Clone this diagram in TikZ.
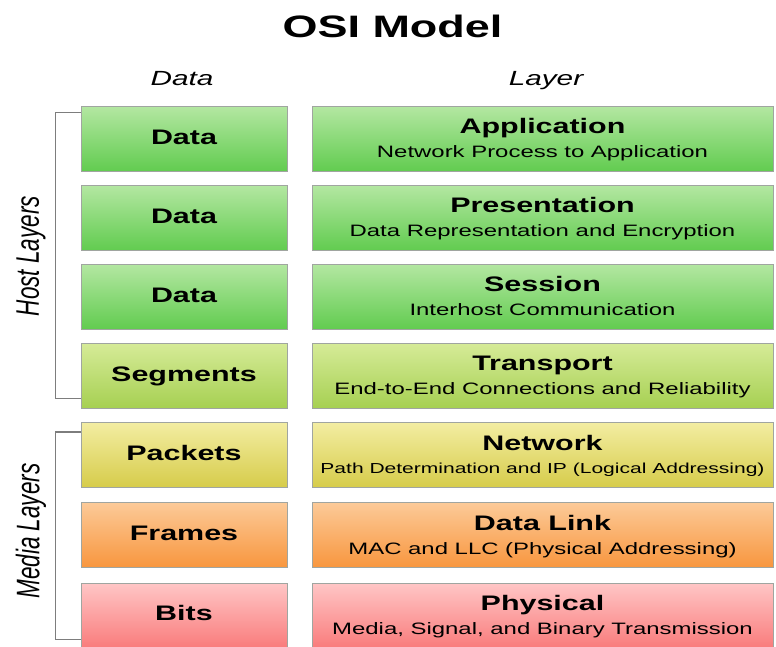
\documentclass[tikz,border=0pt]{standalone}
\usepackage{fontspec}
\setmainfont{Liberation Sans}[FakeStretch=1.45]
\newfontfamily\plainsans{Liberation Sans}
\usepackage{graphicx}
\definecolor{gT}{RGB}{180,231,162}
\definecolor{gB}{RGB}{98,204,80}
\definecolor{sT}{RGB}{214,235,152}
\definecolor{sB}{RGB}{166,208,82}
\definecolor{yT}{RGB}{243,237,162}
\definecolor{yB}{RGB}{214,204,74}
\definecolor{oT}{RGB}{252,202,152}
\definecolor{oB}{RGB}{248,150,62}
\definecolor{rT}{RGB}{255,198,198}
\definecolor{rB}{RGB}{248,112,112}
\definecolor{edge}{RGB}{160,165,160}
\definecolor{brk}{RGB}{125,125,125}
\tikzset{
  box/.style={draw=edge, line width=1pt, minimum height=65pt, inner sep=0pt},
  lbox/.style={box, minimum width=206pt},
  rbox/.style={box, minimum width=461pt},
  grn/.style={top color=gT, bottom color=gB},
  sgr/.style={top color=sT, bottom color=sB},
  yel/.style={top color=yT, bottom color=yB},
  org/.style={top color=oT, bottom color=oB},
  red/.style={top color=rT, bottom color=rB},
  lastrow/.style={minimum height=75pt},
  ltext/.style={anchor=base, inner sep=0pt, font=\fontsize{21}{24}\selectfont\bfseries},
  ttext/.style={anchor=base, inner sep=0pt, font=\fontsize{21}{24}\selectfont\bfseries},
  stext/.style={anchor=base, inner sep=0pt, font=\fontsize{16.5}{19}\selectfont},
  head/.style={anchor=base, inner sep=0pt, font=\fontsize{20.5}{24}\selectfont\itshape},
  bracket/.style={draw=brk, line width=1.3pt},
  side/.style={rotate=90, inner sep=0pt}
}
\begin{document}
\begin{tikzpicture}[x=1pt,y=-1pt]
\clip (0,0) rectangle (776,646);
\useasboundingbox (0,0) rectangle (776,646);
\fill[white] (0,0) rectangle (776,646);

\node[anchor=base, inner sep=0pt, font=\fontsize{31}{34}\selectfont\bfseries] (title) at (392.5,37) {OSI Model};
\node[head] (hdata) at (182,85) {Data};
\node[head] (hlayer) at (546,85) {Layer};

% left boxes
\node[lbox, grn] (d1) at (184,138.5) {};
\node[lbox, grn] (d2) at (184,217.5) {};
\node[lbox, grn] (d3) at (184,296.5) {};
\node[lbox, sgr] (d4) at (184,375.5) {};
\node[lbox, yel] (d5) at (184,455) {};
\node[lbox, org] (d6) at (184,535) {};
\node[lbox, red, lastrow] (d7) at (184,620.5) {};

\node[ltext] (d1t) at ([yshift=-5.5pt]d1.center) {Data};
\node[ltext] (d2t) at ([yshift=-5.5pt]d2.center) {Data};
\node[ltext] (d3t) at ([yshift=-5.5pt]d3.center) {Data};
\node[ltext] (d4t) at ([yshift=-5.5pt]d4.center) {Segments};
\node[ltext] (d5t) at ([yshift=-5.5pt]d5.center) {Packets};
\node[ltext] (d6t) at ([yshift=-5.5pt]d6.center) {Frames};
\node[ltext] (d7t) at ([yshift=-38pt]d7.north) {Bits};

% right boxes
\node[rbox, grn] (l1) at (542.5,138.5) {};
\node[rbox, grn] (l2) at (542.5,217.5) {};
\node[rbox, grn] (l3) at (542.5,296.5) {};
\node[rbox, sgr] (l4) at (542.5,375.5) {};
\node[rbox, yel] (l5) at (542.5,455) {};
\node[rbox, org] (l6) at (542.5,535) {};
\node[rbox, red, lastrow] (l7) at (542.5,620.5) {};

\node[ttext] (l1a) at ([yshift=-28pt]l1.north) {Application};
\node[stext] (l1b) at ([yshift=-52pt]l1.north) {Network Process to Application};
\node[ttext] (l2a) at ([yshift=-28pt]l2.north) {Presentation};
\node[stext] (l2b) at ([yshift=-52pt]l2.north) {Data Representation and Encryption};
\node[ttext] (l3a) at ([yshift=-28pt]l3.north) {Session};
\node[stext] (l3b) at ([yshift=-52pt]l3.north) {Interhost Communication};
\node[ttext] (l4a) at ([yshift=-28pt]l4.north) {Transport};
\node[stext] (l4b) at ([yshift=-52pt]l4.north) {End-to-End Connections and Reliability};
\node[ttext] (l5a) at ([yshift=-28pt]l5.north) {Network};
\node[stext, font=\fontsize{14.5}{17}\selectfont] (l5b) at ([yshift=-51pt]l5.north) {Path Determination and IP (Logical Addressing)};
\node[ttext] (l6a) at ([yshift=-28pt]l6.north) {Data Link};
\node[stext] (l6b) at ([yshift=-52pt]l6.north) {MAC and LLC (Physical Addressing)};
\node[ttext] (l7a) at ([yshift=-28pt]l7.north) {Physical};
\node[stext] (l7b) at ([yshift=-52pt]l7.north) {Media, Signal, and Binary Transmission};

% brackets
\draw[bracket] ([yshift=-7pt]d1.north west) -- ++(-25,0) |- ([yshift=10pt]d4.south west);
\draw[bracket] ([yshift=-10pt]d5.north west) -- ++(-25,0) |- ([yshift=-57pt]d7.north west);

% side labels
\node[side] (host) at (31,256) {\scalebox{1}[1.45]{\plainsans\itshape\fontsize{22.5}{24}\selectfont Host Layers}};
\node[side] (media) at (31,531) {\scalebox{1}[1.45]{\plainsans\itshape\fontsize{22.5}{24}\selectfont Media Layers}};
\end{tikzpicture}
\end{document}
